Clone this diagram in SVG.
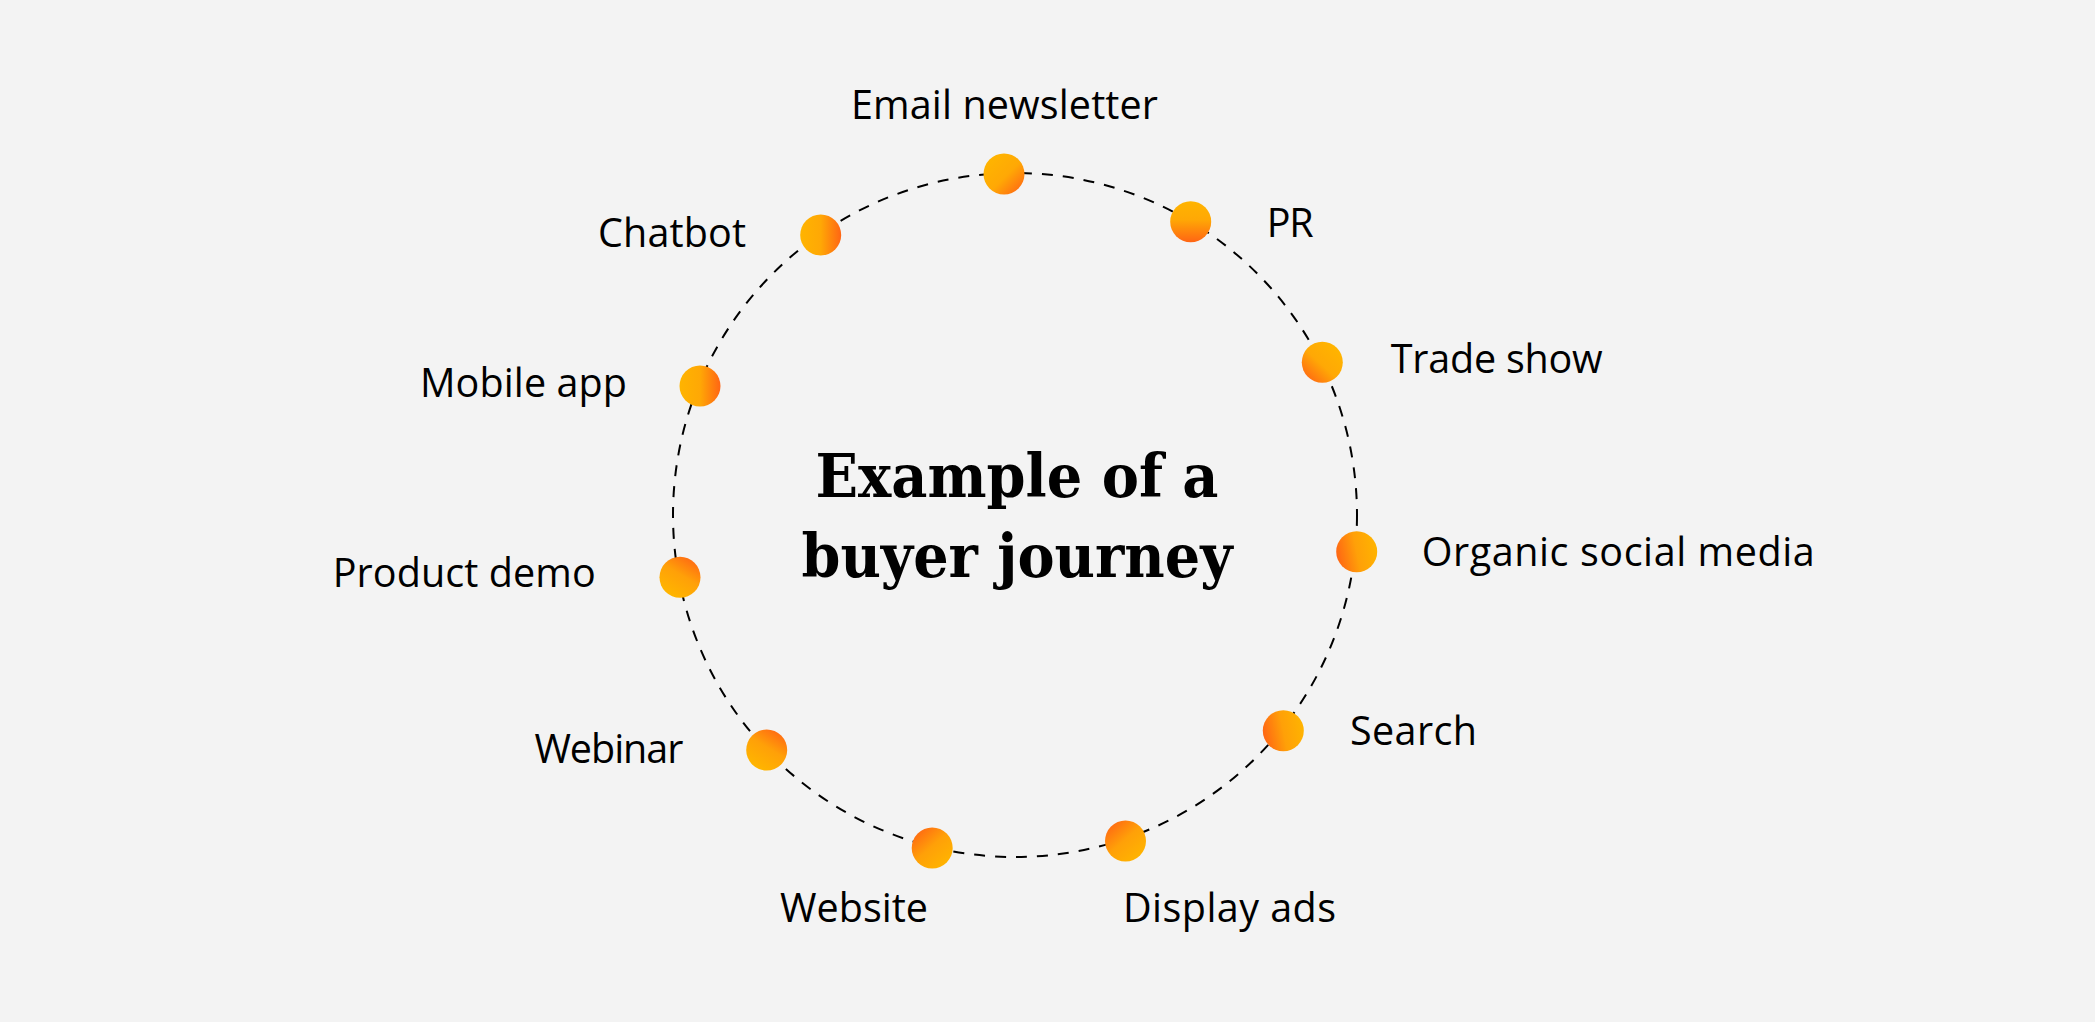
<svg xmlns="http://www.w3.org/2000/svg" width="2095" height="1022" viewBox="0 0 2095 1022">
<defs>
<style>
.lbl{font-family:"Open Sans","Lato",sans-serif;font-size:39.5px;fill:#000;}
.title{font-family:"DejaVu Serif","Liberation Serif",serif;font-weight:bold;font-size:59px;fill:#000;text-anchor:middle;}
.ring{fill:none;stroke:#000;stroke-width:2;stroke-dasharray:11 10;}
</style>
<linearGradient id="gYtlObr" x1="0.15" y1="0.15" x2="0.95" y2="0.95"><stop offset="0" stop-color="#FFB400"/><stop offset="0.5" stop-color="#FFA805"/><stop offset="1" stop-color="#FF6514"/></linearGradient>
<linearGradient id="gYtOb" x1="0.5" y1="0" x2="0.5" y2="1"><stop offset="0" stop-color="#FFB400"/><stop offset="0.45" stop-color="#FFA805"/><stop offset="1" stop-color="#FF6514"/></linearGradient>
<linearGradient id="gYtrObl" x1="0.85" y1="0.15" x2="0.1" y2="0.95"><stop offset="0" stop-color="#FFB400"/><stop offset="0.5" stop-color="#FFA805"/><stop offset="1" stop-color="#FF6514"/></linearGradient>
<linearGradient id="gOlYr" x1="0" y1="0.6" x2="1" y2="0.4"><stop offset="0" stop-color="#FF6514"/><stop offset="0.5" stop-color="#FFA008"/><stop offset="1" stop-color="#FFB400"/></linearGradient>
<linearGradient id="gOtlYbr" x1="0.1" y1="0.05" x2="0.85" y2="0.9"><stop offset="0" stop-color="#FF6514"/><stop offset="0.5" stop-color="#FFA008"/><stop offset="1" stop-color="#FFB400"/></linearGradient>
<linearGradient id="gOtrYb" x1="0.9" y1="0.05" x2="0.35" y2="0.95"><stop offset="0" stop-color="#FF6514"/><stop offset="0.5" stop-color="#FFA008"/><stop offset="1" stop-color="#FFB400"/></linearGradient>
<linearGradient id="gYlOr" x1="0" y1="0.5" x2="1" y2="0.5"><stop offset="0" stop-color="#FFB400"/><stop offset="0.5" stop-color="#FFA805"/><stop offset="1" stop-color="#FF6514"/></linearGradient>
</defs>
<rect x="0" y="0" width="2095" height="1022" fill="#F3F3F3"/>
<g id="connectors">
<circle class="ring" cx="1015" cy="515" r="342"/>
</g>
<g id="title">
<text class="title" x="1017" y="497" textLength="403" lengthAdjust="spacingAndGlyphs">Example of a</text>
<text class="title" x="1017" y="577" textLength="431" lengthAdjust="spacingAndGlyphs">buyer journey</text>
</g>
<g id="node-email"><circle cx="1004" cy="174" r="20.5" fill="url(#gYtlObr)"/><text class="lbl" x="851" y="119" textLength="307">Email newsletter</text></g>
<g id="node-pr"><circle cx="1190.7" cy="221.7" r="20.5" fill="url(#gYtOb)"/><text class="lbl" x="1266.7" y="236.7" textLength="47">PR</text></g>
<g id="node-trade"><circle cx="1322.3" cy="362.3" r="20.5" fill="url(#gYtrObl)"/><text class="lbl" x="1390.7" y="372.7" textLength="212">Trade show</text></g>
<g id="node-organic"><circle cx="1356.7" cy="551.7" r="20.5" fill="url(#gOlYr)"/><text class="lbl" x="1421.7" y="566" textLength="393">Organic social media</text></g>
<g id="node-search"><circle cx="1283.3" cy="730.7" r="20.5" fill="url(#gOlYr)"/><text class="lbl" x="1350" y="745" textLength="127">Search</text></g>
<g id="node-display"><circle cx="1125.5" cy="841" r="20.5" fill="url(#gOtlYbr)"/><text class="lbl" x="1123" y="921.7" textLength="213">Display ads</text></g>
<g id="node-website"><circle cx="932.2" cy="848" r="20.5" fill="url(#gOtlYbr)"/><text class="lbl" x="780" y="921.7" textLength="148">Website</text></g>
<g id="node-webinar"><circle cx="766.7" cy="750" r="20.5" fill="url(#gOtrYb)"/><text class="lbl" x="534.4" y="762.7" textLength="149">Webinar</text></g>
<g id="node-demo"><circle cx="680" cy="577.3" r="20.5" fill="url(#gOtrYb)"/><text class="lbl" x="332.7" y="586.7" textLength="263">Product demo</text></g>
<g id="node-mobile"><circle cx="700" cy="386" r="20.5" fill="url(#gYlOr)"/><text class="lbl" x="420" y="396.7" textLength="207">Mobile app</text></g>
<g id="node-chatbot"><circle cx="820.7" cy="235" r="20.5" fill="url(#gYlOr)"/><text class="lbl" x="598" y="246.7" textLength="148">Chatbot</text></g>
</svg>
